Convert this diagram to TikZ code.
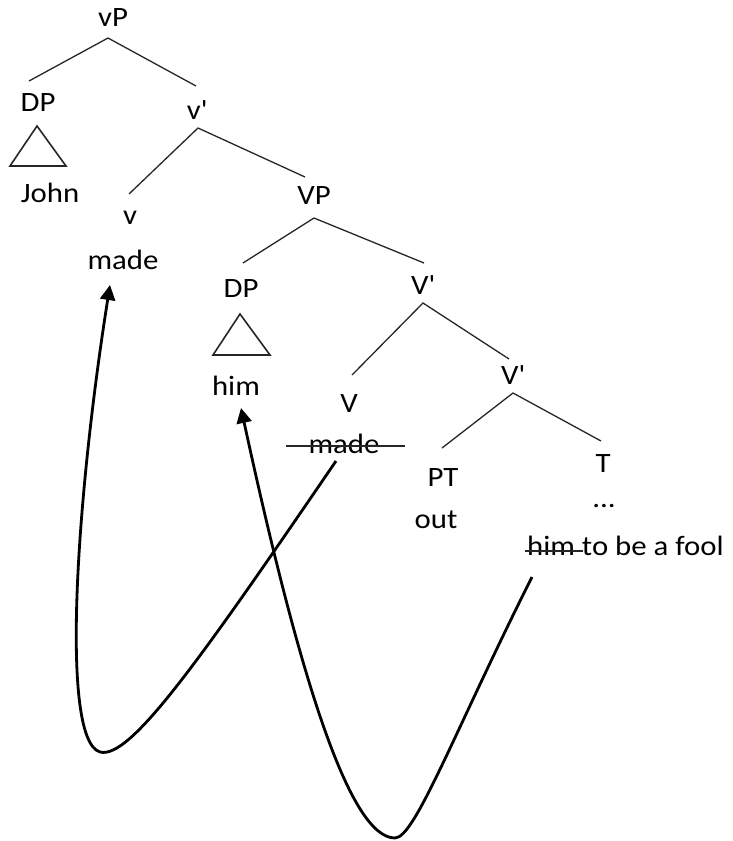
\documentclass[tikz,border=0pt]{standalone}
\usepackage{fontspec}
\setmainfont{Carlito}[FakeStretch=1.1]
\usetikzlibrary{arrows.meta}
\begin{document}
\begin{tikzpicture}[x=1pt,y=-1pt,
  lab/.style={inner sep=0pt,font=\fontsize{28}{32}\selectfont},
  edge/.style={line width=1.3pt,draw=black!85},
  tri/.style={line width=1.6pt,draw=black!85},
  strike/.style={line width=1.4pt,draw=black!85},
  move/.style={line width=2.8pt,-{Triangle[length=15pt,width=15pt]}}]
\useasboundingbox (0,0) rectangle (733,841);
% labels
\node[lab] (vP) at (113,18) {vP};
\node[lab] (DPa) at (38,103) {DP};
\node[lab] (John) at (50,193) {John};
\node[lab] (vbar) at (197,110) {v\textquotesingle};
\node[lab] (v) at (130,218) {v};
\node[lab] (madeA) at (123,260) {made};
\node[lab] (VP) at (314,196) {VP};
\node[lab] (DPb) at (241,289) {DP};
\node[lab] (him) at (236,386) {him};
\node[lab] (Vbar) at (423,285) {V\textquotesingle};
\node[lab] (V) at (349,404) {V};
\node[lab] (madeB) at (344,444) {made};
\node[lab] (Vbarb) at (513,375) {V\textquotesingle};
\node[lab] (PT) at (443,478) {PT};
\node[lab] (out) at (436,520) {out};
\node[lab] (T) at (603,464) {T};
\node[lab] (dots) at (604,506) {...};
\node[lab,anchor=west] (inf) at (527,546) {him to be a fool};
% edge endpoints
\coordinate (vPt) at (108,38);
\coordinate (vPl) at (29,81);
\coordinate (vPr) at (196,86);
\coordinate (vbt) at (198,128);
\coordinate (vbl) at (129,194);
\coordinate (vbr) at (305,177);
\coordinate (VPt) at (314,218);
\coordinate (VPl) at (243,263);
\coordinate (VPr) at (424,263);
\coordinate (Vbt) at (423,303);
\coordinate (Vbl) at (352,375);
\coordinate (Vbr) at (509,359);
\coordinate (Vbbt) at (513,393);
\coordinate (Vbbl) at (442,448);
\coordinate (Vbbr) at (601,441);
\draw[edge] (vPl) -- (vPt) -- (vPr);
\draw[edge] (vbl) -- (vbt) -- (vbr);
\draw[edge] (VPl) -- (VPt) -- (VPr);
\draw[edge] (Vbl) -- (Vbt) -- (Vbr);
\draw[edge] (Vbbl) -- (Vbbt) -- (Vbbr);
% triangles
\draw[tri] (37,126) -- (66,166) -- (10,166) -- cycle;
\draw[tri] (240,314) -- (270,355) -- (213,355) -- cycle;
% strike-throughs
\draw[strike] (286,446) -- (405,446);
\draw[strike] (525,551) -- (583,551);
% movement curves
\coordinate (s1) at (336,461);
\coordinate (s2) at (532,577);
\coordinate (t1) at (110,285);
\coordinate (t2) at (241,408);
\draw[move] (s1) .. controls (200,660) and (130,760) .. (100,752)
  .. controls (60,740) and (76,500) .. (t1);
\draw[move] (s2) .. controls (455,730) and (415,838) .. (395,838)
  .. controls (350,838) and (300,680) .. (t2);
\end{tikzpicture}
\end{document}
